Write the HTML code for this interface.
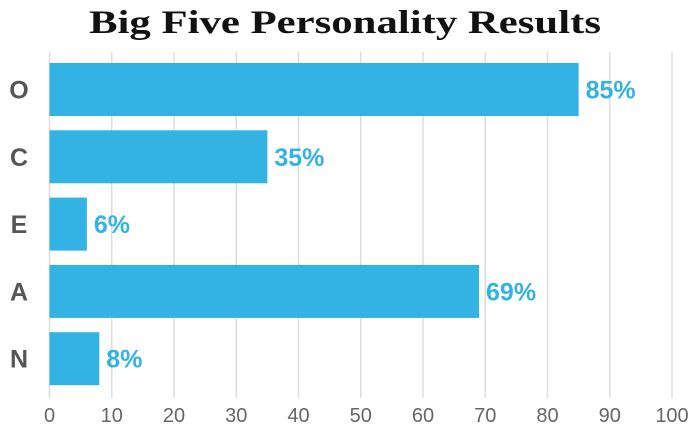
<!DOCTYPE html>
<html><head><meta charset="utf-8"><style>
html,body{margin:0;padding:0;background:#fff;}
svg{display:block;}
</style></head><body>
<svg id="chart" width="700" height="435" xmlns="http://www.w3.org/2000/svg">
<text x="89" y="33" textLength="512" lengthAdjust="spacingAndGlyphs" font-family="'Liberation Serif',serif" font-weight="bold" font-size="33" fill="#111">Big Five Personality Results</text>
<g id="grid"></g><g id="bars"></g><g id="labels"></g>
</svg>
<script>
const categories = ["O","C","E","A","N"];
const values = [85,35,6,69,8];
const ticks = [0,10,20,30,40,50,60,70,80,90,100];
const NS="http://www.w3.org/2000/svg";
const x0=49.5, pxPerUnit=6.225, top0=52, band=67.3, barH=53, barOff=11;
function xs(v){return x0+v*pxPerUnit;}
function ys(i){return top0+i*band+barOff;}
function mk(tag,attrs,parent){const e=document.createElementNS(NS,tag);for(const k in attrs)e.setAttribute(k,attrs[k]);document.getElementById(parent).appendChild(e);return e;}
ticks.forEach(t=>{
  const l=mk('line',{x1:xs(t),x2:xs(t),y1:52,y2:398,stroke:'#ddd','stroke-width':1.5},'grid');
  
  
  const tx=mk('text',{x:xs(t),y:422,'text-anchor':'middle','font-family':"'Liberation Sans',sans-serif",'font-size':20,fill:'#666'},'labels');
  tx.textContent=t;
  
  
});
categories.forEach((c,i)=>{
  const r=mk('rect',{x:x0,y:ys(i),width:xs(values[i])-x0,height:barH,fill:'#33b2e4'},'bars');
  
  
  const cl=mk('text',{x:19,y:ys(i)+barH/2+9,'text-anchor':'middle','font-family':"'Liberation Sans',sans-serif",'font-weight':'bold','font-size':25,fill:'#555'},'labels');
  cl.textContent=c;
  
  
  const vl=mk('text',{x:xs(values[i])+7,y:ys(i)+barH/2+9,'font-family':"'Liberation Sans',sans-serif",'font-weight':'bold','font-size':25,fill:'#33b2e4'},'labels');
  vl.textContent=values[i]+'%';
  
  
});
</script>
</body></html>
